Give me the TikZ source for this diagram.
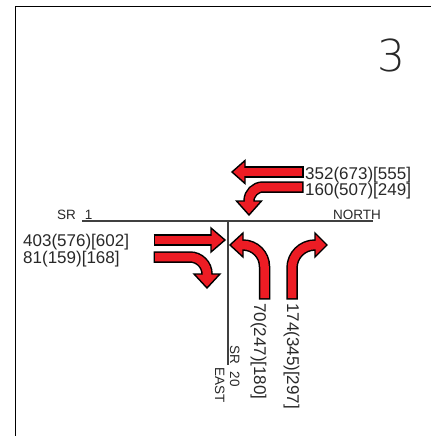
\documentclass[tikz,border=0pt]{standalone}
\usepackage{fontspec}
\setmainfont{Liberation Sans}
\newfontfamily\thinfont{DejaVu Sans ExtraLight}
\definecolor{arrowred}{RGB}{237,28,36}
\definecolor{textgray}{RGB}{40,40,40}
\tikzset{
  shaftout/.style={draw=black,line width=11.5pt},
  shaftin/.style={draw=arrowred,line width=8.5pt},
  arrowhead/.style={fill=arrowred,draw=black,line width=1.4pt,line join=miter},
  road/.style={draw=black!75,line width=1.2pt},
  frameline/.style={draw=black,line width=1.6pt},
  vol/.style={inner sep=0pt,anchor=base west,text=textgray,font=\fontsize{17}{17}\selectfont},
  rvol/.style={vol,rotate=-90},
  street/.style={inner sep=0pt,anchor=base west,text=textgray,font=\fontsize{13.5}{13.5}\selectfont},
  rstreet/.style={street,rotate=-90}
}
\begin{document}
\begin{tikzpicture}[x=1pt,y=1pt]
\useasboundingbox (0,0) rectangle (431,-436);
% frame
\draw[frameline] (15.5,-436) -- (15.5,-6.5) -- (431,-6.5);
% roads
\coordinate (w) at (82,-221);
\coordinate (e) at (373,-221);
\coordinate (c) at (228,-221);
\coordinate (s) at (228,-365);
\draw[road] (w) -- (e);
\draw[road] (c) -- (s);
% labels
\node[font=\thinfont\fontsize{44}{44}\selectfont,text=textgray,inner sep=0pt,anchor=base west] (num) at (377,-71) {3};
\node[street] (sr1) at (57,-219.5) {SR\hspace{9pt}1};
\node[street] (north) at (333,-219.5) {NORTH};
\node[rstreet] (sr20) at (230,-345) {SR\hspace{8pt}20};
\node[rstreet] (east) at (215,-367) {EAST};
\node[vol] (wbt) at (305,-179.5) {352(673)[555]};
\node[vol] (wbl) at (305,-195) {160(507)[249]};
\node[vol] (ebt) at (23,-246) {403(576)[602]};
\node[vol] (ebr) at (23,-263) {81(159)[168]};
\node[rvol] (nbl) at (254,-303) {70(247)[180]};
\node[rvol] (nbr) at (287,-303) {174(345)[297]};
% westbound through
\draw[shaftout] (303.5,-172) -- (243,-172);
\draw[arrowhead] (245,-160.5) -- (232,-172) -- (245,-183.5) -- cycle;
\draw[shaftin] (302,-172) -- (243,-172);
% westbound left
\draw[shaftout] (303.5,-187) -- (263,-187) .. controls (255.27,-187) and (249,-193.27) .. (249,-201) -- (249,-203);
\draw[arrowhead] (236.5,-201) -- (249,-215) -- (261.5,-201) -- cycle;
\draw[shaftin] (302,-187) -- (263,-187) .. controls (255.27,-187) and (249,-193.27) .. (249,-201) -- (249,-203);
% eastbound through
\draw[shaftout] (153.5,-240) -- (213,-240);
\draw[arrowhead] (211,-228) -- (225,-240) -- (211,-252) -- cycle;
\draw[shaftin] (155,-240) -- (213,-240);
% eastbound right
\draw[shaftout] (153.5,-257) -- (190,-257) .. controls (199.39,-257) and (207,-264.61) .. (207,-274) -- (207,-276);
\draw[arrowhead] (194,-274) -- (207,-288) -- (220,-274) -- cycle;
\draw[shaftin] (155,-257) -- (190,-257) .. controls (199.39,-257) and (207,-264.61) .. (207,-274) -- (207,-276);
% northbound left
\draw[shaftout] (264.5,-299.5) -- (264.5,-266.5) .. controls (264.5,-254.63) and (254.87,-245) .. (243,-245) -- (241,-245);
\draw[arrowhead] (243,-233) -- (230,-245) -- (243,-257) -- cycle;
\draw[shaftin] (264.5,-298) -- (264.5,-266.5) .. controls (264.5,-254.63) and (254.87,-245) .. (243,-245) -- (241,-245);
% northbound right
\draw[shaftout] (292,-299.5) -- (292,-268) .. controls (292,-255.30) and (302.30,-245) .. (315,-245) -- (317,-245);
\draw[arrowhead] (315,-233) -- (327,-245) -- (315,-257) -- cycle;
\draw[shaftin] (292,-298) -- (292,-268) .. controls (292,-255.30) and (302.30,-245) .. (315,-245) -- (317,-245);
\end{tikzpicture}
\end{document}
